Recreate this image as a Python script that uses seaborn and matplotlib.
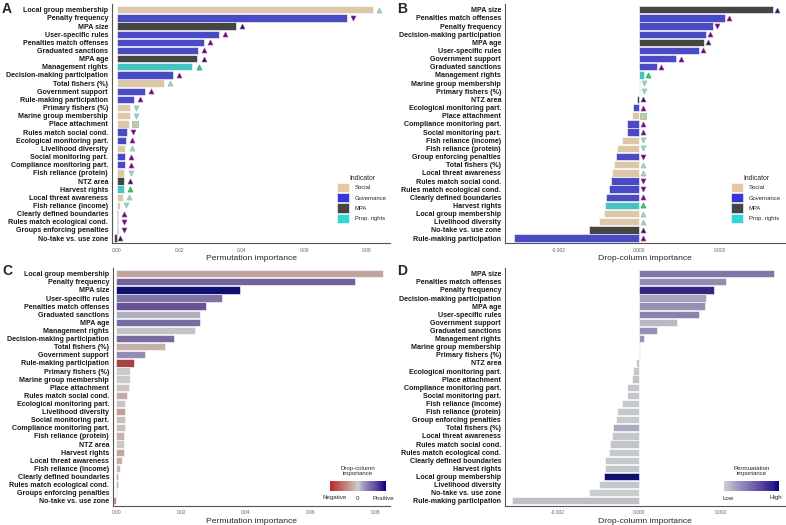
import numpy as np
import pandas as pd
import seaborn as sns
import matplotlib.pyplot as plt
from matplotlib.colors import LinearSegmentedColormap, Normalize
from matplotlib.cm import ScalarMappable
from matplotlib.patches import Patch

sns.set_style("white")
plt.rcParams["font.family"] = ["Liberation Sans", "DejaVu Sans"]

# indicators, listed in permutation-importance order
labels = ["Local group membership", "Penalty frequency", "MPA size", "User-specific rules",
          "Penalties match offenses", "Graduated sanctions", "MPA age", "Management rights",
          "Decision-making participation", "Total fishers (%)", "Government support",
          "Rule-making participation", "Primary fishers (%)", "Marine group membership",
          "Place attachment", "Rules match social cond.", "Ecological monitoring part.",
          "Livelihood diversity", "Social monitoring part.", "Compliance monitoring part.",
          "Fish reliance (protein)", "NTZ area", "Harvest rights", "Local threat awareness",
          "Fish reliance (income)", "Clearly defined boundaries", "Rules match ecological cond.",
          "Groups enforcing penalties", "No-take vs. use zone"]
# same indicators as named on the drop-column panels
drop_labels = labels[:27] + ["Group enforcing penalties", "No-take vs. use zone"]
category = ["Social", "Governance", "MPA", "Governance", "Governance", "Governance", "MPA",
            "Prop. rights", "Governance", "Social", "Governance", "Governance", "Social", "Social",
            "Social", "Governance", "Governance", "Social", "Governance", "Governance", "Social",
            "MPA", "Prop. rights", "Social", "Social", "Governance", "Governance", "Governance", "MPA"]
direction = ["up", "down", "up", "up", "up", "up", "up", "up", "up", "up", "up", "up", "down", "down",
             "flat", "down", "up", "up", "up", "up", "down", "up", "up", "up", "down", "up", "down",
             "down", "up"]
perm_imp = [0.0821, 0.0736, 0.0381, 0.0327, 0.0278, 0.0259, 0.0258, 0.0242, 0.0179, 0.0150,
            0.0090, 0.0056, 0.0043, 0.0042, 0.0039, 0.0032, 0.00285, 0.0028, 0.0027, 0.0026,
            0.0025, 0.0024, 0.0023, 0.0019, 0.0011, 0.0005, 0.0004, 0.0003, -0.0009]
drop_imp = [-0.00087, 0.00182, 0.00331, 0.00147, 0.00212, 0.00043, 0.00161, 0.00011, 0.00164,
            -0.00064, 0.00092, -0.00311, 0.000008, 0.000012, -0.00017, -0.00071, -0.00016,
            -0.00099, -0.00031, -0.00030, -0.00055, -0.00007, -0.00085, -0.00068, -0.00043,
            -0.00083, -0.00075, -0.00058, -0.00124]

cat_order = ["Social", "Governance", "MPA", "Prop. rights"]
cat_colors = {"Social": "#e6c8a0", "Governance": "#3636d8", "MPA": "#454545", "Prop. rights": "#33d6d6"}
mark_fill = {"Social": "#dcbf96", "Governance": "#1a1ab0", "MPA": "#1a1a1a", "Prop. rights": "#2fc4a8"}
mark_edge = {"Social": "#5fcfcf", "Governance": "#d4407a", "MPA": "#9a5cc0", "Prop. rights": "#3aa840"}
mark_shape = {"up": "^", "down": "v", "flat": "s"}

drop_cmap = LinearSegmentedColormap.from_list("drop", [
    (0.0, "#b8282a"), (0.25, "#c47a70"), (0.37, "#c8a09a"), (0.5, "#c9cccc"), (0.57, "#aaaac2"),
    (0.64, "#9088b8"), (0.75, "#7462a8"), (0.82, "#6048a0"), (0.91, "#3a2290"), (1.0, "#000080")])
perm_cmap = LinearSegmentedColormap.from_list("perm", [
    (0.0, "#c9cdcd"), (0.1, "#b9bcc8"), (0.2, "#a6a3c4"), (0.35, "#8e84b8"), (0.5, "#7a68ae"),
    (0.7, "#5540a0"), (0.9, "#2a1890"), (1.0, "#000080")])

df = pd.DataFrame({"label": labels, "drop_label": drop_labels, "category": category,
                   "direction": direction, "perm": perm_imp, "drop": drop_imp})
by_perm = df.sort_values("perm", ascending=False, kind="stable").reset_index(drop=True)
by_drop = df.sort_values("drop", ascending=False, kind="stable").reset_index(drop=True)

dmax = df["drop"].abs().max()
drop_norm = Normalize(-dmax, dmax)
perm_norm = Normalize(df["perm"].min(), df["perm"].max())

fig = plt.figure(figsize=(7.86, 5.25), dpi=100)
H = 525.0
W = 786.0


def px_axes(x0, y0, x1, y1):
    return fig.add_axes([x0 / W, 1 - y1 / H, (x1 - x0) / W, (y1 - y0) / H])


def style_axes(ax, xlabel, xlim, ticks, ticklabels):
    ax.set_xlim(*xlim)
    ax.set_ylim(len(df) - 1 + 0.6, -0.7)
    ax.set_xticks(ticks)
    ax.set_xticklabels(ticklabels)
    ax.set_xlabel(xlabel, fontsize=6.1, labelpad=2)
    ax.set_ylabel("")
    for s in ["top", "right"]:
        ax.spines[s].set_visible(False)
    for s in ["left", "bottom"]:
        ax.spines[s].set_color("#555555")
        ax.spines[s].set_linewidth(0.8)
    ax.tick_params(axis="y", labelsize=5.1, length=1.8, width=0.5, pad=1, color="#555555")
    ax.tick_params(axis="x", labelsize=3.5, length=1.8, width=0.5, pad=1.5, color="#555555",
                   labelcolor="#666666")
    for t in ax.get_yticklabels():
        t.set_fontweight("bold")
        t.set_color("#1a1a1a")


def add_markers(ax, d, value_col, offset):
    for i, r in d.iterrows():
        ax.scatter(max(r[value_col], 0) + offset if offset < 0.001 else r[value_col] + offset, i,
                   marker=mark_shape[r["direction"]], s=13, color=mark_fill[r["category"]],
                   edgecolor=mark_edge[r["category"]], linewidth=0.5, zorder=5)


def add_legend(ax, x, y):
    handles = [Patch(facecolor=cat_colors[c], edgecolor="white", linewidth=0.4, label=c) for c in cat_order]
    ax.legend(handles=handles, title="Indicator", loc="upper left", bbox_to_anchor=(x / W, 1 - y / H),
              bbox_transform=fig.transFigure, frameon=False, fontsize=4.2, title_fontsize=4.9,
              handlelength=2.05, handleheight=2.05, labelspacing=0.17, handletextpad=1.0,
              borderpad=0, borderaxespad=0)


# A: permutation importance, coloured by indicator type
axA = px_axes(112, 4, 390, 243)
sns.barplot(data=by_perm, y="label", x="perm", hue="category", palette=cat_colors, order=by_perm["label"],
            orient="h", dodge=False, width=0.9, edgecolor="white", linewidth=0.4, legend=False, ax=axA)
add_markers(axA, by_perm, "perm", 0.002)
style_axes(axA, "Permutation importance", (-0.0015, 0.0875), [0, 0.02, 0.04, 0.06, 0.08],
           ["0.00", "0.02", "0.04", "0.06", "0.08"])
add_legend(axA, 337, 175)

# B: drop-column importance, coloured by indicator type
axB = px_axes(505, 4, 785, 243)
sns.barplot(data=by_drop, y="drop_label", x="drop", hue="category", palette=cat_colors,
            order=by_drop["drop_label"], orient="h", dodge=False, width=0.9, edgecolor="white",
            linewidth=0.4, legend=False, ax=axB)
add_markers(axB, by_drop, "drop", 0.0001)
style_axes(axB, "Drop-column importance", (-0.00333, 0.00361), [-0.002, 0, 0.002],
           ["-0.002", "0.000", "0.002"])
add_legend(axB, 731, 175)

# C: permutation importance, coloured by drop-column importance
axC = px_axes(113, 268, 390, 505.7)
c_pal = {r["label"]: drop_cmap(drop_norm(r["drop"])) for _, r in by_perm.iterrows()}
sns.barplot(data=by_perm, y="label", x="perm", hue="label", palette=c_pal, order=by_perm["label"],
            orient="h", width=0.9, edgecolor="white", linewidth=0.4, legend=False, ax=axC)
style_axes(axC, "Permutation importance", (-0.001, 0.0844), [0, 0.02, 0.04, 0.06, 0.08],
           ["0.00", "0.02", "0.04", "0.06", "0.08"])

# D: drop-column importance, coloured by permutation importance
axD = px_axes(505, 268, 785, 505.7)
d_pal = {r["drop_label"]: perm_cmap(perm_norm(r["perm"])) for _, r in by_drop.iterrows()}
sns.barplot(data=by_drop, y="drop_label", x="drop", hue="drop_label", palette=d_pal,
            order=by_drop["drop_label"], orient="h", width=0.9, edgecolor="white", linewidth=0.4,
            legend=False, ax=axD)
style_axes(axD, "Drop-column importance", (-0.00329, 0.00357), [-0.002, 0, 0.002],
           ["-0.002", "0.000", "0.002"])

# colour bars for C and D
caxC = px_axes(330, 481, 386, 491)
cbC = fig.colorbar(ScalarMappable(norm=drop_norm, cmap=drop_cmap), cax=caxC, orientation="horizontal")
cbC.set_ticks([])
cbC.outline.set_visible(False)
fig.text(358 / W, 1 - 471 / H, "Drop-column\nimportance", ha="center", va="center", fontsize=4.4,
         linespacing=1.1)
for x, t in [(335, "Negative"), (357, "0"), (383, "Positive")]:
    fig.text(x / W, 1 - 498 / H, t, ha="center", va="center", fontsize=4.4)

caxD = px_axes(724, 481, 779, 491)
cbD = fig.colorbar(ScalarMappable(norm=perm_norm, cmap=perm_cmap), cax=caxD, orientation="horizontal")
cbD.set_ticks([])
cbD.outline.set_visible(False)
fig.text(752 / W, 1 - 471 / H, "Permuatation\nimportance", ha="center", va="center", fontsize=4.4,
         linespacing=1.1)
for x, t in [(728, "Low"), (776, "High")]:
    fig.text(x / W, 1 - 498 / H, t, ha="center", va="center", fontsize=4.4)

# panel letters
for x, y, t in [(2, 2, "A"), (397, 2, "B"), (2, 264, "C"), (397, 264, "D")]:
    fig.text(x / W, 1 - y / H, t, ha="left", va="top", fontsize=10, fontweight="bold")

fig.savefig("out.png", dpi=100)
